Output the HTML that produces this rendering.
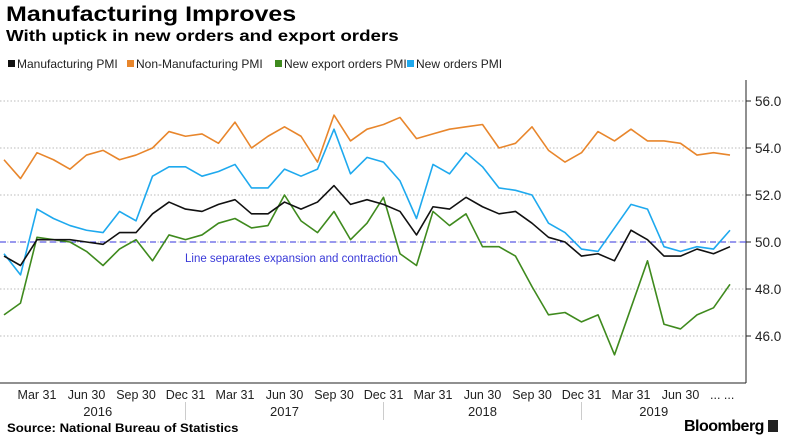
<!DOCTYPE html>
<html><head><meta charset="utf-8"><style>
body{margin:0;background:#fff;font-family:"Liberation Sans",sans-serif;}
#wrap{position:relative;width:785px;height:445px;overflow:hidden;}
.t{position:absolute;white-space:nowrap;transform-origin:0 0;}
</style></head><body>
<div id="wrap">
<div class="t" style="left:6px;top:3px;font-size:21px;font-weight:bold;transform:scaleX(1.19);">Manufacturing Improves</div>
<div class="t" style="left:6px;top:28px;font-size:15.5px;font-weight:bold;transform:scaleX(1.21);">With uptick in new orders and export orders</div>
<div class="t" style="left:7px;top:421px;font-size:12px;font-weight:bold;transform:scaleX(1.095);">Source: National Bureau of Statistics</div>
<div class="t" style="left:684px;top:418px;font-size:16px;font-weight:bold;letter-spacing:-0.5px;">Bloomberg <span style="display:inline-block;width:10px;height:12px;background:#222;vertical-align:-1px;"></span></div>
<svg id="svg" width="785" height="445" style="position:absolute;left:0;top:0"></svg>
</div>
<script>
const mfg=[49.4,49.0,50.1,50.1,50.1,50.0,49.9,50.4,50.4,51.2,51.7,51.4,51.3,51.6,51.8,51.2,51.2,51.7,51.4,51.7,52.4,51.6,51.8,51.6,51.3,50.3,51.5,51.4,51.9,51.5,51.2,51.3,50.8,50.2,50.0,49.4,49.5,49.2,50.5,50.1,49.4,49.4,49.7,49.5,49.8];
const nonMfg=[53.5,52.7,53.8,53.5,53.1,53.7,53.9,53.5,53.7,54.0,54.7,54.5,54.6,54.2,55.1,54.0,54.5,54.9,54.5,53.4,55.4,54.3,54.8,55.0,55.3,54.4,54.6,54.8,54.9,55.0,54.0,54.2,54.9,53.9,53.4,53.8,54.7,54.3,54.8,54.3,54.3,54.2,53.7,53.8,53.7];
const exportOrders=[46.9,47.4,50.2,50.1,50.0,49.6,49.0,49.7,50.1,49.2,50.3,50.1,50.3,50.8,51.0,50.6,50.7,52.0,50.9,50.4,51.3,50.1,50.8,51.9,49.5,49.0,51.3,50.7,51.2,49.8,49.8,49.4,48.1,46.9,47.0,46.6,46.9,45.2,47.2,49.2,46.5,46.3,46.9,47.2,48.2];
const newOrders=[49.5,48.6,51.4,51.0,50.7,50.5,50.4,51.3,50.9,52.8,53.2,53.2,52.8,53.0,53.3,52.3,52.3,53.1,52.8,53.1,54.8,52.9,53.6,53.4,52.6,51.0,53.3,52.9,53.8,53.2,52.3,52.2,52.0,50.8,50.4,49.7,49.6,50.6,51.6,51.4,49.8,49.6,49.8,49.7,50.5];
const yTicks=[46,48,50,52,54,56];
const tickLabels=["Mar 31","Jun 30","Sep 30","Dec 31"];
const years=["2016","2017","2018","2019"];
const names=["Manufacturing PMI","Non-Manufacturing PMI","New export orders PMI","New orders PMI"];
const colors=["#111111","#e8862c","#3f8a1e","#1ea9ee"];

const NS="http://www.w3.org/2000/svg";
const svg=document.getElementById('svg');
const x=i=>4+i*16.5;
const y=v=>242-(v-50)*23.5;
function mk(tag,attrs,parent){const e=document.createElementNS(NS,tag);for(const k in attrs)e.setAttribute(k,attrs[k]);(parent||svg).appendChild(e);return e;}

yTicks.forEach(v=>{
  const g=mk('line',{x1:0,x2:746,y1:y(v),y2:y(v),stroke:'#bbb','stroke-dasharray':'1.5,2'});
  
  
  const tk=mk('line',{x1:746,x2:751,y1:y(v),y2:y(v),stroke:'#222'});
  
  
  const t=mk('text',{x:755,y:y(v)+5,'font-size':13.5,fill:'#222','font-family':'Liberation Sans, sans-serif'});
  t.textContent=v.toFixed(1);
  
  
});
const ya=mk('line',{x1:746,x2:746,y1:80,y2:383,stroke:'#222'});


const xa=mk('line',{x1:0,x2:746,y1:383,y2:383,stroke:'#222'});



const ref=mk('line',{x1:0,x2:746,y1:y(50),y2:y(50),stroke:'#3333dd','stroke-dasharray':'6,4'});


const rt=mk('text',{x:185,y:262,'font-size':11.5,fill:'#3a3ad8','font-family':'Liberation Sans, sans-serif'});
rt.textContent="Line separates expansion and contraction";



[nonMfg,newOrders,exportOrders,mfg].forEach((arr)=>{
  const idx=[mfg,nonMfg,exportOrders,newOrders].indexOf(arr);
  const p=mk('polyline',{points:arr.map((v,i)=>x(i)+','+y(v)).join(' '),fill:'none',stroke:colors[idx],'stroke-width':1.6,'stroke-linejoin':'round'});
  
  
});

for(let i=2,q=0;i<=41;i+=3,q++){
  const t=mk('text',{x:x(i),y:399,'font-size':12.5,fill:'#222','text-anchor':'middle','font-family':'Liberation Sans, sans-serif'});
  t.textContent=tickLabels[q%4];
  
  
}
const dots=mk('text',{x:710,y:399,'font-size':12.5,fill:'#222','font-family':'Liberation Sans, sans-serif'});
dots.textContent="... ...";


years.forEach((yr,k)=>{
  const left=k===0?10:x(k*12-1), right=k<3?x(k*12+11):726;
  const t=mk('text',{x:(left+right)/2,y:416,'font-size':13,fill:'#222','text-anchor':'middle','font-family':'Liberation Sans, sans-serif'});
  t.textContent=yr;
  
  
  if(k>0){const s=mk('line',{x1:x(k*12-1),x2:x(k*12-1),y1:402,y2:420,stroke:'#ccc'});
  
  }
});

const lx=[8,127,275,407];
names.forEach((n,k)=>{
  const r=mk('rect',{x:lx[k],y:60,width:7,height:7,fill:colors[k]});
  
  
  const t=mk('text',{x:lx[k]+9,y:68,'font-size':12,fill:'#222','font-family':'Liberation Sans, sans-serif'});
  t.textContent=n;
  
  
});
</script>
</body></html>
